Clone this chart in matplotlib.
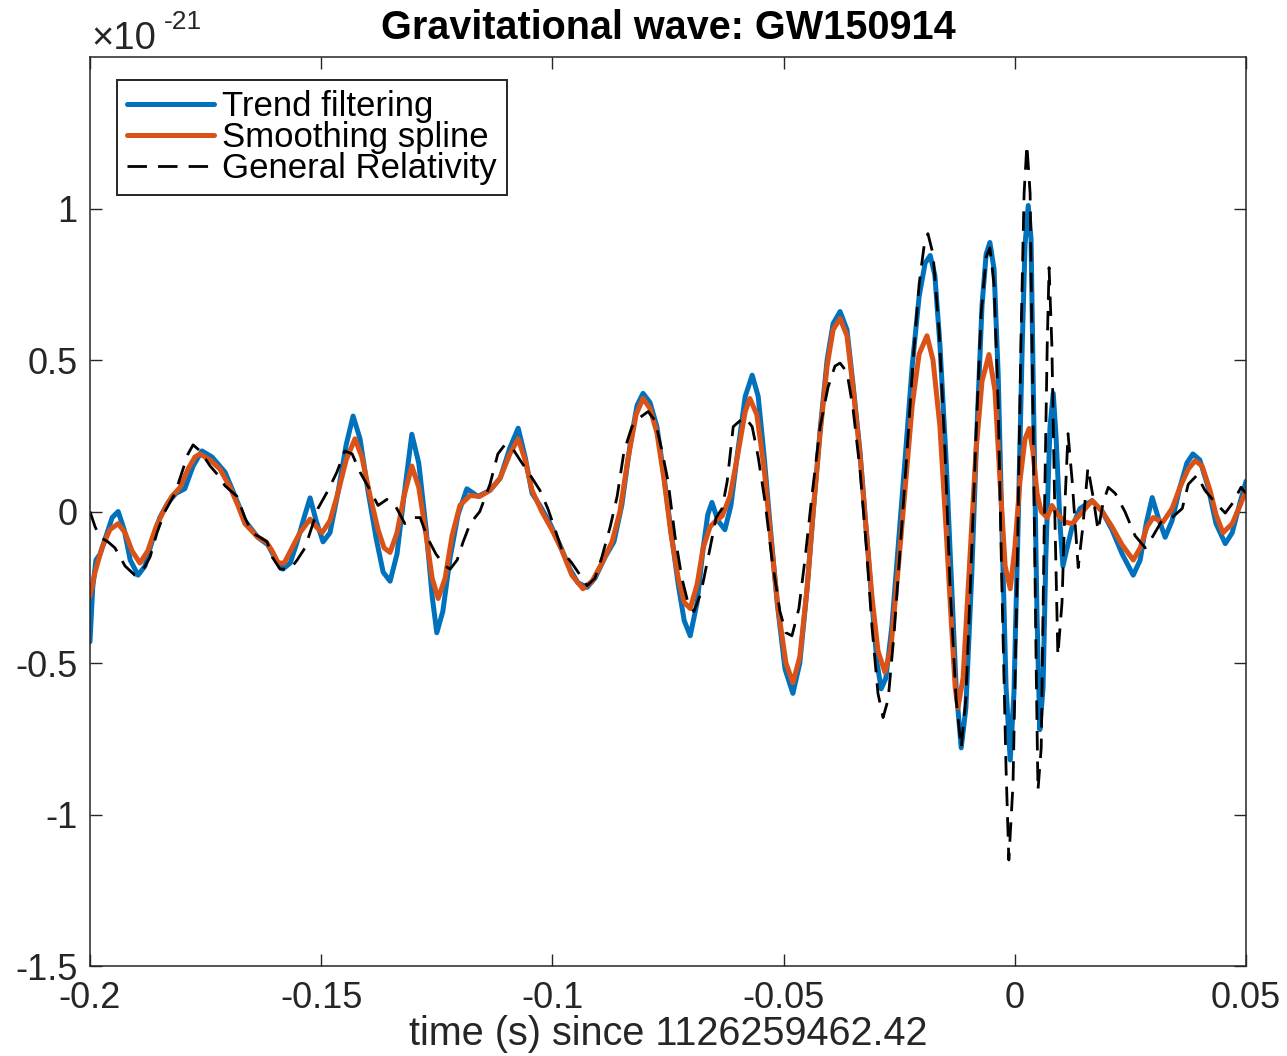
import matplotlib.pyplot as plt
import numpy as np

plt.rcParams['font.family'] = ['Liberation Sans', 'DejaVu Sans']

# strain in units of 1e-21, time in s since 1126259462.42
t_tf = [-0.2000, -0.1994, -0.1987, -0.1978, -0.1965, -0.1952, -0.1939, -0.1926, -0.1913, -0.1896,
        -0.1881, -0.1866, -0.1849, -0.1831, -0.1814, -0.1795, -0.1777, -0.1758, -0.1736, -0.1708,
        -0.1686, -0.1665, -0.1637, -0.1615, -0.1598, -0.1583, -0.1567, -0.1552, -0.1537, -0.1524,
        -0.1511, -0.1496, -0.1481, -0.1464, -0.1446, -0.1431, -0.1416, -0.1399, -0.1381, -0.1366,
        -0.1351, -0.1336, -0.1321, -0.1304, -0.1289, -0.1273, -0.1260, -0.1250, -0.1237, -0.1221,
        -0.1204, -0.1185, -0.1161, -0.1135, -0.1113, -0.1092, -0.1074, -0.1059, -0.1044, -0.1027,
        -0.1005, -0.0984, -0.0962, -0.0945, -0.0925, -0.0908, -0.0886, -0.0867, -0.0850, -0.0832,
        -0.0817, -0.0804, -0.0789, -0.0774, -0.0759, -0.0744, -0.0728, -0.0715, -0.0702, -0.0687,
        -0.0674, -0.0664, -0.0655, -0.0642, -0.0627, -0.0614, -0.0599, -0.0583, -0.0568, -0.0555,
        -0.0542, -0.0529, -0.0514, -0.0497, -0.0480, -0.0465, -0.0449, -0.0436, -0.0421, -0.0406,
        -0.0393, -0.0378, -0.0363, -0.0350, -0.0335, -0.0322, -0.0309, -0.0298, -0.0289, -0.0279,
        -0.0266, -0.0253, -0.0237, -0.0222, -0.0207, -0.0194, -0.0183, -0.0173, -0.0162, -0.0149,
        -0.0138, -0.0127, -0.0116, -0.0106, -0.0093, -0.0082, -0.0071, -0.0062, -0.0054, -0.0045,
        -0.0036, -0.0028, -0.0019, -0.0010, -0.0002, 0.0007, 0.0016, 0.0022, 0.0029, 0.0035,
        0.0041, 0.0048, 0.0054, 0.0061, 0.0067, 0.0076, 0.0083, 0.0089, 0.0098, 0.0104,
        0.0113, 0.0124, 0.0141, 0.0167, 0.0189, 0.0210, 0.0232, 0.0256, 0.0271, 0.0284,
        0.0297, 0.0310, 0.0325, 0.0340, 0.0357, 0.0372, 0.0385, 0.0400, 0.0418, 0.0435,
        0.0455, 0.0470, 0.0487, 0.0500]
y_tf = [-0.43, -0.25, -0.16, -0.14, -0.08, -0.02, 0.00, -0.06, -0.16, -0.21,
        -0.18, -0.10, -0.02, 0.03, 0.06, 0.075, 0.15, 0.20, 0.18, 0.13,
        0.05, -0.03, -0.085, -0.11, -0.16, -0.19, -0.17, -0.10, -0.02, 0.045,
        -0.03, -0.10, -0.07, 0.06, 0.22, 0.315, 0.24, 0.07, -0.09, -0.20,
        -0.23, -0.14, 0.05, 0.255, 0.16, -0.06, -0.28, -0.40, -0.33, -0.15,
        -0.01, 0.075, 0.05, 0.07, 0.11, 0.21, 0.275, 0.18, 0.06, 0.02,
        -0.04, -0.11, -0.19, -0.235, -0.25, -0.22, -0.15, -0.10, 0.02, 0.22,
        0.35, 0.39, 0.36, 0.28, 0.12, -0.06, -0.24, -0.36, -0.41, -0.30,
        -0.12, -0.01, 0.03, -0.03, -0.06, 0.02, 0.20, 0.38, 0.45, 0.38,
        0.18, -0.05, -0.30, -0.52, -0.60, -0.50, -0.25, 0.00, 0.27, 0.50,
        0.62, 0.66, 0.60, 0.42, 0.20, -0.05, -0.30, -0.50, -0.585, -0.55,
        -0.38, -0.13, 0.18, 0.48, 0.71, 0.82, 0.845, 0.78, 0.55, 0.18,
        -0.20, -0.58, -0.78, -0.65, -0.20, 0.27, 0.68, 0.85, 0.888, 0.80,
        0.45, -0.05, -0.58, -0.82, -0.60, -0.05, 0.55, 0.88, 1.01, 0.90,
        0.30, -0.35, -0.72, -0.58, -0.15, 0.28, 0.39, 0.25, -0.05, -0.18,
        -0.12, -0.05, 0.01, 0.036, 0.00, -0.06, -0.14, -0.21, -0.16, -0.04,
        0.046, -0.02, -0.085, -0.03, 0.08, 0.16, 0.19, 0.17, 0.08, -0.04,
        -0.106, -0.07, 0.03, 0.10]

t_ss = [-0.2000, -0.1989, -0.1974, -0.1957, -0.1939, -0.1924, -0.1909, -0.1892, -0.1875, -0.1857,
        -0.1838, -0.1823, -0.1805, -0.1788, -0.1773, -0.1762, -0.1740, -0.1719, -0.1697, -0.1680,
        -0.1665, -0.1637, -0.1619, -0.1606, -0.1593, -0.1580, -0.1563, -0.1546, -0.1524, -0.1511,
        -0.1498, -0.1481, -0.1464, -0.1446, -0.1427, -0.1412, -0.1394, -0.1377, -0.1364, -0.1351,
        -0.1336, -0.1321, -0.1304, -0.1289, -0.1273, -0.1260, -0.1247, -0.1232, -0.1217, -0.1200,
        -0.1178, -0.1157, -0.1135, -0.1113, -0.1092, -0.1074, -0.1059, -0.1044, -0.1023, -0.1001,
        -0.0979, -0.0958, -0.0934, -0.0914, -0.0893, -0.0871, -0.0854, -0.0837, -0.0819, -0.0804,
        -0.0789, -0.0774, -0.0759, -0.0744, -0.0728, -0.0715, -0.0702, -0.0687, -0.0674, -0.0659,
        -0.0646, -0.0633, -0.0616, -0.0599, -0.0583, -0.0573, -0.0558, -0.0542, -0.0527, -0.0512,
        -0.0495, -0.0480, -0.0465, -0.0449, -0.0436, -0.0421, -0.0406, -0.0393, -0.0378, -0.0363,
        -0.0350, -0.0335, -0.0322, -0.0309, -0.0296, -0.0281, -0.0268, -0.0253, -0.0237, -0.0222,
        -0.0207, -0.0190, -0.0177, -0.0162, -0.0149, -0.0138, -0.0129, -0.0123, -0.0112, -0.0097,
        -0.0084, -0.0071, -0.0056, -0.0043, -0.0032, -0.0021, -0.0010, 0.0000, 0.0011, 0.0022,
        0.0031, 0.0039, 0.0048, 0.0057, 0.0070, 0.0080, 0.0093, 0.0109, 0.0124, 0.0141,
        0.0167, 0.0189, 0.0210, 0.0232, 0.0256, 0.0271, 0.0286, 0.0299, 0.0320, 0.0340,
        0.0357, 0.0375, 0.0390, 0.0405, 0.0422, 0.0435, 0.0450, 0.0470, 0.0487, 0.0500]
y_ss = [-0.28, -0.20, -0.12, -0.06, -0.04, -0.07, -0.13, -0.17, -0.13, -0.05,
        0.01, 0.05, 0.08, 0.14, 0.18, 0.19, 0.17, 0.14, 0.08, 0.02,
        -0.04, -0.085, -0.10, -0.13, -0.17, -0.17, -0.12, -0.07, -0.025, -0.05,
        -0.07, -0.03, 0.06, 0.17, 0.24, 0.18, 0.05, -0.06, -0.12, -0.135,
        -0.07, 0.05, 0.15, 0.08, -0.08, -0.22, -0.287, -0.22, -0.08, 0.02,
        0.053, 0.05, 0.07, 0.11, 0.19, 0.24, 0.17, 0.07, 0.00, -0.06,
        -0.13, -0.21, -0.255, -0.23, -0.17, -0.10, 0.00, 0.17, 0.32, 0.373,
        0.34, 0.26, 0.11, -0.07, -0.22, -0.30, -0.32, -0.24, -0.12, -0.05,
        -0.03, -0.015, 0.05, 0.19, 0.33, 0.373, 0.32, 0.14, -0.10, -0.32,
        -0.50, -0.565, -0.48, -0.25, 0.00, 0.26, 0.48, 0.60, 0.637, 0.58,
        0.41, 0.19, -0.05, -0.28, -0.46, -0.53, -0.45, -0.20, 0.08, 0.35,
        0.52, 0.58, 0.50, 0.28, -0.05, -0.35, -0.58, -0.647, -0.55, -0.15,
        0.20, 0.43, 0.518, 0.40, 0.10, -0.18, -0.255, -0.12, 0.10, 0.24,
        0.274, 0.20, 0.06, 0.00, -0.02, 0.02, -0.01, -0.035, -0.04, -0.01,
        0.036, 0.00, -0.05, -0.11, -0.16, -0.12, -0.05, -0.02, -0.035, 0.01,
        0.08, 0.14, 0.168, 0.15, 0.07, -0.01, -0.07, -0.04, 0.02, 0.07]

t_gr = [-0.2000, -0.1989, -0.1978, -0.1961, -0.1946, -0.1924, -0.1903, -0.1888, -0.1870, -0.1855,
        -0.1838, -0.1816, -0.1801, -0.1788, -0.1777, -0.1762, -0.1740, -0.1723, -0.1708, -0.1682,
        -0.1665, -0.1650, -0.1632, -0.1617, -0.1606, -0.1589, -0.1567, -0.1552, -0.1535, -0.1520,
        -0.1507, -0.1485, -0.1466, -0.1449, -0.1433, -0.1416, -0.1394, -0.1377, -0.1358, -0.1340,
        -0.1319, -0.1301, -0.1286, -0.1269, -0.1252, -0.1232, -0.1221, -0.1206, -0.1193, -0.1178,
        -0.1157, -0.1135, -0.1118, -0.1103, -0.1087, -0.1070, -0.1048, -0.1027, -0.1010, -0.0994,
        -0.0979, -0.0958, -0.0940, -0.0925, -0.0908, -0.0893, -0.0875, -0.0860, -0.0845, -0.0828,
        -0.0811, -0.0793, -0.0778, -0.0763, -0.0750, -0.0735, -0.0720, -0.0707, -0.0694, -0.0679,
        -0.0659, -0.0646, -0.0633, -0.0622, -0.0609, -0.0594, -0.0583, -0.0568, -0.0555, -0.0540,
        -0.0525, -0.0508, -0.0495, -0.0482, -0.0467, -0.0454, -0.0439, -0.0421, -0.0404, -0.0389,
        -0.0378, -0.0363, -0.0350, -0.0335, -0.0322, -0.0309, -0.0296, -0.0285, -0.0274, -0.0261,
        -0.0248, -0.0233, -0.0220, -0.0207, -0.0196, -0.0188, -0.0177, -0.0164, -0.0151, -0.0140,
        -0.0127, -0.0116, -0.0106, -0.0095, -0.0084, -0.0073, -0.0062, -0.0054, -0.0045, -0.0036,
        -0.0028, -0.0019, -0.0013, -0.0004, 0.0005, 0.0013, 0.0020, 0.0026, 0.0033, 0.0039,
        0.0046, 0.0050, 0.0057, 0.0063, 0.0070, 0.0074, 0.0080, 0.0087, 0.0093, 0.0102,
        0.0109, 0.0115, 0.0124, 0.0137, 0.0147, 0.0158, 0.0169, 0.0180, 0.0191, 0.0202,
        0.0217, 0.0238, 0.0260, 0.0282, 0.0299, 0.0318, 0.0340, 0.0362, 0.0375, 0.0394,
        0.0411, 0.0433, 0.0455, 0.0472, 0.0489, 0.0500]
y_gr = [0.00, -0.05, -0.085, -0.10, -0.12, -0.18, -0.21, -0.20, -0.15, -0.07,
        0.00, 0.06, 0.13, 0.19, 0.22, 0.20, 0.15, 0.12, 0.085, 0.05,
        -0.02, -0.07, -0.085, -0.10, -0.15, -0.19, -0.19, -0.16, -0.12, -0.05,
        0.01, 0.07, 0.13, 0.20, 0.19, 0.13, 0.07, 0.02, 0.04, 0.02,
        -0.04, -0.02, -0.02, -0.09, -0.14, -0.18, -0.19, -0.16, -0.10, -0.04,
        0.00, 0.09, 0.19, 0.22, 0.21, 0.17, 0.12, 0.07, 0.01, -0.06,
        -0.13, -0.17, -0.21, -0.245, -0.22, -0.15, -0.05, 0.05, 0.20, 0.28,
        0.31, 0.33, 0.30, 0.20, 0.10, -0.08, -0.22, -0.30, -0.33, -0.27,
        -0.12, -0.02, 0.01, 0.10, 0.28, 0.30, 0.31, 0.28, 0.18, 0.03,
        -0.16, -0.33, -0.40, -0.41, -0.32, -0.16, 0.05, 0.28, 0.41, 0.48,
        0.49, 0.46, 0.34, 0.14, -0.10, -0.38, -0.60, -0.68, -0.62, -0.40,
        -0.12, 0.20, 0.50, 0.75, 0.88, 0.917, 0.85, 0.60, 0.20, -0.25,
        -0.62, -0.78, -0.62, -0.20, 0.25, 0.65, 0.84, 0.87, 0.75, 0.35,
        -0.25, -0.85, -1.15, -0.90, -0.20, 0.55, 1.05, 1.21, 1.05, 0.35,
        -0.50, -0.92, -0.78, -0.10, 0.55, 0.805, 0.55, -0.05, -0.475, -0.30,
        0.05, 0.257, 0.10, -0.185, -0.05, 0.145, 0.05, -0.063, 0.03, 0.08,
        0.06, 0.00, -0.08, -0.12, -0.08, -0.03, -0.02, 0.01, 0.09, 0.12,
        0.07, 0.03, -0.005, 0.03, 0.08, 0.06]

fig = plt.figure(figsize=(12.87, 10.56), dpi=100)
ax = fig.add_axes([0.0699, 0.0852, 0.8983, 0.8608])

dark = '#262626'
ax.plot(t_tf, y_tf, color='#0072BD', lw=3.6, label='Trend filtering',
        solid_joinstyle='round', solid_capstyle='round')
ax.plot(t_ss, y_ss, color='#D95319', lw=3.6, label='Smoothing spline',
        solid_joinstyle='round', solid_capstyle='round')
ax.plot(t_gr, y_gr, color='black', lw=2.0, dashes=(7, 4), label='General Relativity')

ax.set_xlim(-0.2, 0.05)
ax.set_ylim(-1.5, 1.5)
ax.set_xticks([-0.2, -0.15, -0.1, -0.05, 0, 0.05])
ax.set_xticklabels(['-0.2', '-0.15', '-0.1', '-0.05', '0', '0.05'])
ax.set_yticks([-1.5, -1, -0.5, 0, 0.5, 1])
ax.set_yticklabels(['-1.5', '-1', '-0.5', '0', '0.5', '1'])
ax.tick_params(direction='in', length=8.5, width=1, colors=dark, labelsize=26,
               top=True, right=True, pad=9)
ax.tick_params(axis='x', pad=11)
for s in ax.spines.values():
    s.set_color(dark)
    s.set_linewidth(1.1)

ax.set_title('Gravitational wave: GW150914', fontsize=28.5, fontweight='bold', pad=13)
ax.set_xlabel('time (s) since 1126259462.42', fontsize=28.5, color=dark, labelpad=-1)

fig.text(0.071, 0.954, '\u00d710', fontsize=27.5, color=dark, va='baseline')
fig.text(0.127, 0.973, '-21', fontsize=19, color=dark, va='baseline')

leg = ax.legend(loc='upper left', bbox_to_anchor=(0.0234, 0.975), fontsize=25,
                borderaxespad=0, handlelength=2.5, handletextpad=0.22,
                labelspacing=-0.06, borderpad=0.3, fancybox=False, framealpha=1)
leg.get_frame().set_edgecolor(dark)
leg.get_frame().set_linewidth(1.4)

fig.savefig('out.png', dpi=100)
